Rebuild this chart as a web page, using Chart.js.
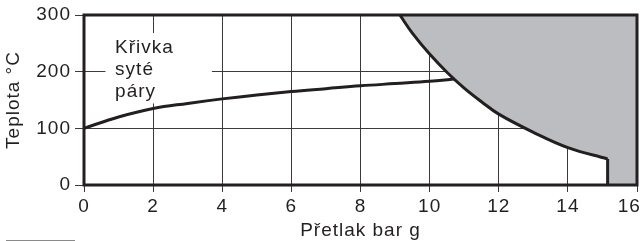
<!DOCTYPE html>
<html>
<head>
<meta charset="utf-8">
<script src="https://cdn.jsdelivr.net/npm/chart.js@4"></script>
<style>
  html, body { margin: 0; padding: 0; background: #fff; }
  #wrap { width: 640px; height: 241px; }
</style>
</head>
<body>
<div id="wrap"><canvas id="myChart"></canvas></div>
<script>
// krivka syte pary (tlak bar g -> teplota C)
var satPressure = [0, 1, 2, 3, 4, 5, 6, 7, 8, 9, 10, 10.7];
var satTemp = [100, 120, 135, 144, 152, 159, 165, 170, 175, 179, 183, 187];

// hranice sedé oblasti
var limitPressure = [9.14, 9.5, 10, 10.5, 11, 11.5, 12, 13, 14, 15.15];
var limitTemp = [300, 268, 231, 199, 171, 147, 125, 93, 66, 46];
var edgePressure = [15.15, 15.15];
var edgeTemp = [46, 0];
var stripPressure = [15.12, 16];
var stripTemp = [0, 0];

var xTicks = [0, 2, 4, 6, 8, 10, 12, 14, 16];
var yTicks = [0, 100, 200, 300];
var labelLines = ['Křivka', 'syté', 'páry'];

var ink = '#231f20';
var grey = '#bcbdc0';
var fontName = '"Liberation Sans", Arial, Helvetica, sans-serif';

function pts(xs, ys) {
    return xs.map(function(x, i) { return { x: x, y: ys[i] }; });
}

var trackingPlugin = {
    id: 'tracking',
    beforeUpdate: function(chart) { chart.ctx.letterSpacing = '1px'; },
    beforeDraw: function(chart) { chart.ctx.letterSpacing = '1px'; }
};

var labelPlugin = {
    id: 'labelBox',
    beforeDatasetsDraw: function(chart) {
        var ctx = chart.ctx, x = chart.scales.x, y = chart.scales.y;
        ctx.save();
        ctx.fillStyle = '#fff';
        var l = x.getPixelForValue(0.62), r = x.getPixelForValue(3.7);
        var t = y.getPixelForValue(268), b = y.getPixelForValue(144);
        ctx.fillRect(l, t, r - l, b - t);
        ctx.fillStyle = ink;
        ctx.font = '19px ' + fontName;
        ctx.textBaseline = 'alphabetic';
        var tx = x.getPixelForValue(0.9);
        var ty = y.getPixelForValue(233);
        labelLines.forEach(function(s, i) { ctx.fillText(s, tx, ty + i * 22); });
        ctx.restore();
    },
    afterDatasetsDraw: function(chart) {
        var ctx = chart.ctx, a = chart.chartArea;
        ctx.save();
        ctx.strokeStyle = ink;
        ctx.lineWidth = 3;
        ctx.strokeRect(a.left, a.top, a.right - a.left, a.bottom - a.top);
        // kratka linka vlevo dole
        ctx.strokeStyle = '#8a8a8a';
        ctx.lineWidth = 1;
        ctx.beginPath();
        ctx.moveTo(6, chart.height - 0.5);
        ctx.lineTo(75, chart.height - 0.5);
        ctx.stroke();
        ctx.restore();
    }
};

document.addEventListener("DOMContentLoaded", function() {
    var ctx = document.getElementById('myChart').getContext('2d');

    var myChart = new Chart(ctx, {
        type: 'line',
        data: {
            datasets: [{
                label: 'Křivka syté páry',
                data: pts(satPressure, satTemp),
                borderColor: ink,
                borderWidth: 3,
                pointRadius: 0,
                tension: 0.4,
                fill: false,
                order: 0
            }, {
                label: 'hranice',
                data: pts(limitPressure, limitTemp),
                borderColor: ink,
                borderWidth: 3,
                backgroundColor: grey,
                pointRadius: 0,
                tension: 0.4,
                fill: 'end',
                order: 1
            }, {
                label: 'okraj',
                data: pts(edgePressure, edgeTemp),
                borderColor: ink,
                borderWidth: 3,
                pointRadius: 0,
                tension: 0,
                fill: false,
                order: 1
            }, {
                label: 'pruh',
                data: pts(stripPressure, stripTemp),
                borderWidth: 0,
                backgroundColor: grey,
                pointRadius: 0,
                tension: 0,
                fill: 'end',
                order: 2
            }]
        },
        options: {
            responsive: true,
            maintainAspectRatio: false,
            animation: false,
            layout: { padding: { top: 15, right: 3, left: 0, bottom: 0 } },
            plugins: {
                legend: { display: false },
                tooltip: { enabled: false }
            },
            scales: {
                x: {
                    type: 'linear',
                    min: 0,
                    max: 16,
                    afterBuildTicks: function(s) { s.ticks = xTicks.map(function(v) { return { value: v }; }); },
                    afterFit: function(s) { s.height = 56; s.paddingRight = 0; s.paddingLeft = 0; },
                    grid: { color: '#3a3a3a', lineWidth: 1, tickLength: 7, tickColor: '#3a3a3a' },
                    border: { display: false },
                    ticks: {
                        color: ink,
                        padding: 3,
                        maxRotation: 0,
                        font: { family: fontName, size: 19 },
                        // posledni popisek posunout dovnitr, aby nebyl oriznuty
                        callback: function(v) { return v === 16 ? '16\u2002\u2009' : String(v); }
                    },
                    title: {
                        display: true,
                        text: 'Přetlak bar g',
                        color: ink,
                        padding: { top: 0, bottom: 0 },
                        font: { family: fontName, size: 19, lineHeight: 1.1 }
                    }
                },
                y: {
                    min: 0,
                    max: 300,
                    afterBuildTicks: function(s) { s.ticks = yTicks.map(function(v) { return { value: v }; }); },
                    afterFit: function(s) { s.width = 84; s.paddingTop = 0; s.paddingBottom = 0; },
                    grid: { color: '#3a3a3a', lineWidth: 1, tickLength: 9, tickColor: '#3a3a3a' },
                    border: { display: false },
                    ticks: {
                        color: ink,
                        padding: 4,
                        font: { family: fontName, size: 19 }
                    },
                    title: {
                        display: true,
                        text: 'Teplota °C',
                        color: ink,
                        padding: { top: 2, bottom: 0 },
                        font: { family: fontName, size: 19 }
                    }
                }
            }
        },
        plugins: [trackingPlugin, labelPlugin]
    });
});
</script>
</body>
</html>
